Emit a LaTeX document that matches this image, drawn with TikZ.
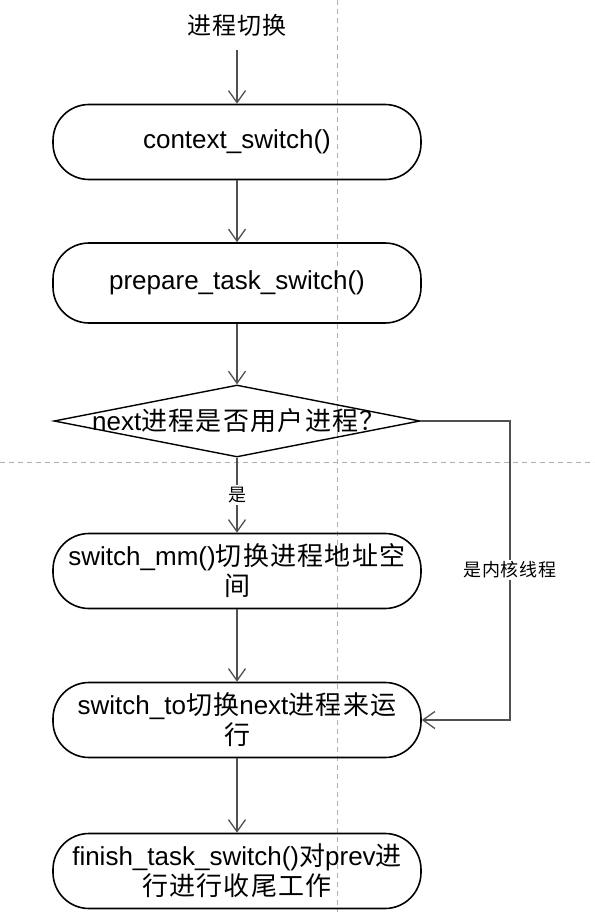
\documentclass[tikz,border=0pt]{standalone}
\usepackage{fontspec}
\setmainfont{Liberation Sans}
\newfontfamily\cjk{Noto Sans CJK SC}[LetterSpace=5]
\usepackage{tikz}
\usetikzlibrary{arrows.meta,shapes.geometric}

\newcommand{\zh}[1]{{\cjk #1}}
\definecolor{linegray}{HTML}{505050}
\definecolor{guidegray}{HTML}{B0B0B0}

\tikzset{
  procbox/.style={draw, line width=1.6pt, rounded corners=36pt,
    minimum width=368pt, minimum height=75pt, inner sep=0pt,
    align=center, font=\fontsize{26}{30}\selectfont},
  decbox/.style={draw, line width=1.4pt, diamond, inner sep=0pt,
    minimum width=366pt, minimum height=72pt},
  flow/.style={->, draw=linegray, line width=1.3pt},
  guide/.style={draw=guidegray, line width=0.9pt, dash pattern=on 5pt off 4pt},
  smalltext/.style={font=\fontsize{18}{20}\selectfont, fill=white, inner sep=2pt}
}

\begin{document}
\begin{tikzpicture}[x=1pt,y=-1pt,>={Straight Barb[length=12pt,width=17pt]}]
  \useasboundingbox (0,0) rectangle (594,912);
  % guide lines
  \draw[guide] (337,0) -- (337,912);
  \draw[guide] (0,462) -- (594,462);

  % steps
  \node (title) at (237,25) {\fontsize{24}{26}\selectfont\zh{进程切换}};
  \node[procbox] (ctx) at (237,142) {context\_switch()};
  \node[procbox, minimum height=80pt] (prep) at (237,283) {prepare\_task\_switch()};
  \node[decbox] (dec) at (237,421) {};
  \node[font=\fontsize{26}{30}\selectfont] (dectext) at (239,421) {next\zh{进程是否用户进程？}};
  \node[procbox] (mm) at (237,571) {switch\_mm()\zh{切换进程地址空}\\\zh{间}};
  \node[procbox] (swto) at (237,720) {switch\_to\zh{切换}next\zh{进程来运}\\\zh{行}};
  \node[procbox] (fin) at (237,871) {finish\_task\_switch()\zh{对}prev\zh{进}\\\zh{行进行收尾工作}};

  % connectors
  \draw[flow, shorten <=10pt] (title) -- (ctx);
  \draw[flow] (ctx) -- (prep);
  \draw[flow] (prep) -- (dec);
  \draw[flow] (dec) -- node[smalltext] {\zh{是}} (mm);
  \draw[flow] (mm) -- (swto);
  \draw[flow] (swto) -- (fin);

  % kernel thread branch
  \coordinate (kturn) at (510,720);
  \draw[flow] (dec.east) -| (kturn) -- (swto.east);
  \node[smalltext] (klabel) at (510,570) {\zh{是内核线程}};
\end{tikzpicture}
\end{document}
